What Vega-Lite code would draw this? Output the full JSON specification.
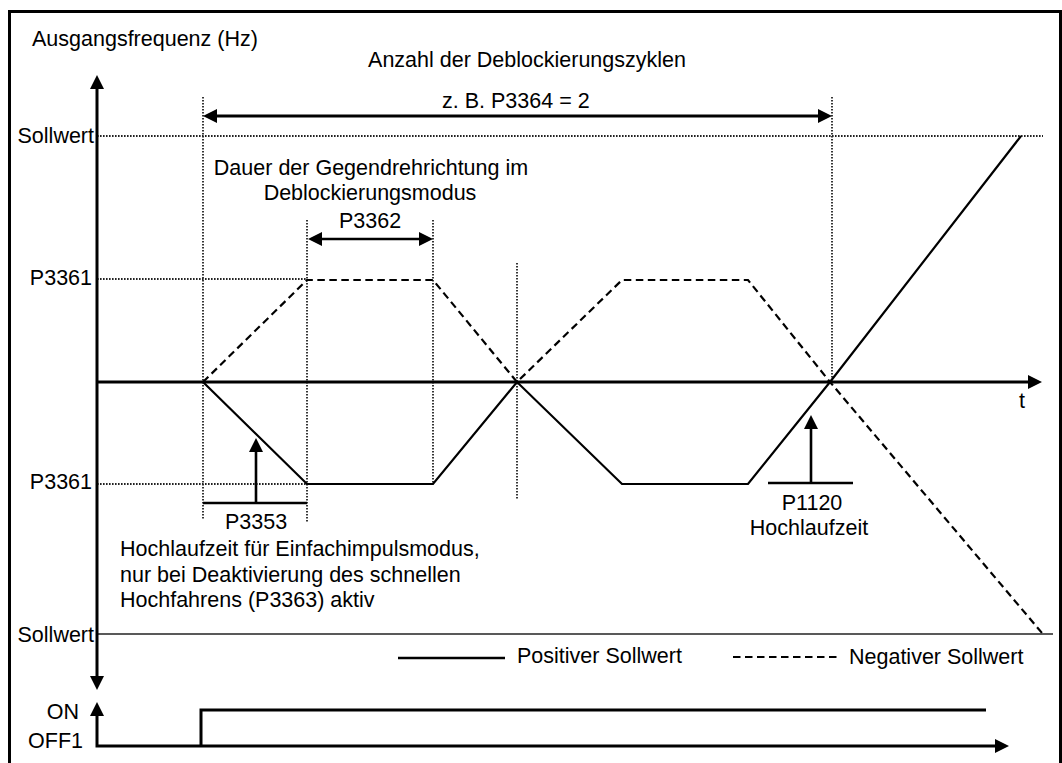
{
  "$schema": "https://vega.github.io/schema/vega-lite/v6.json",
  "width": 1062,
  "height": 763,
  "padding": 0,
  "autosize": {"type": "none"},
  "background": "white",
  "config": {"view": {"stroke": null}, "text": {"font": "Liberation Sans", "fontSize": 21.5, "color": "black", "baseline": "alphabetic"}},
  "datasets": {
    "frame": [{"x": 9.5, "x2": 1060.5, "y": 11.5, "y2": 900}],
    "paths": [
      {"g": "vax", "s": "thick", "o": 0, "x": 97, "y": 82},
      {"g": "vax", "s": "thick", "o": 1, "x": 97, "y": 683},
      {"g": "hax", "s": "thick", "o": 0, "x": 97, "y": 382},
      {"g": "hax", "s": "thick", "o": 1, "x": 1035, "y": 382},
      {"g": "bax", "s": "thick", "o": 0, "x": 97, "y": 709},
      {"g": "bax", "s": "thick", "o": 1, "x": 97, "y": 746},
      {"g": "bax", "s": "thick", "o": 2, "x": 1002, "y": 746},
      {"g": "on", "s": "thick", "o": 0, "x": 201, "y": 746},
      {"g": "on", "s": "thick", "o": 1, "x": 201, "y": 710},
      {"g": "on", "s": "thick", "o": 2, "x": 986, "y": 710},
      {"g": "top", "s": "thick", "o": 0, "x": 210, "y": 116},
      {"g": "top", "s": "thick", "o": 1, "x": 825, "y": 116},
      {"g": "p3362", "s": "mid", "o": 0, "x": 315, "y": 239},
      {"g": "p3362", "s": "mid", "o": 1, "x": 426, "y": 239},
      {"g": "br1", "s": "mid", "o": 0, "x": 203, "y": 503},
      {"g": "br1", "s": "mid", "o": 1, "x": 307, "y": 503},
      {"g": "sh1", "s": "mid", "o": 0, "x": 256, "y": 503},
      {"g": "sh1", "s": "mid", "o": 1, "x": 256, "y": 445},
      {"g": "br2", "s": "mid", "o": 0, "x": 768, "y": 483},
      {"g": "br2", "s": "mid", "o": 1, "x": 853, "y": 483},
      {"g": "sh2", "s": "mid", "o": 0, "x": 811, "y": 483},
      {"g": "sh2", "s": "mid", "o": 1, "x": 811, "y": 422},
      {"g": "legpos", "s": "mid", "o": 0, "x": 398, "y": 658},
      {"g": "legpos", "s": "mid", "o": 1, "x": 505, "y": 658},
      {"g": "pos", "s": "curve", "o": 0, "x": 203, "y": 382},
      {"g": "pos", "s": "curve", "o": 1, "x": 307, "y": 484},
      {"g": "pos", "s": "curve", "o": 2, "x": 433, "y": 484},
      {"g": "pos", "s": "curve", "o": 3, "x": 517, "y": 382},
      {"g": "pos", "s": "curve", "o": 4, "x": 622, "y": 484},
      {"g": "pos", "s": "curve", "o": 5, "x": 748, "y": 484},
      {"g": "pos", "s": "curve", "o": 6, "x": 830, "y": 382},
      {"g": "pos", "s": "curve", "o": 7, "x": 1021, "y": 136},
      {"g": "neg", "s": "dash", "o": 0, "x": 203, "y": 382},
      {"g": "neg", "s": "dash", "o": 1, "x": 307, "y": 280},
      {"g": "neg", "s": "dash", "o": 2, "x": 433, "y": 280},
      {"g": "neg", "s": "dash", "o": 3, "x": 517, "y": 382},
      {"g": "neg", "s": "dash", "o": 4, "x": 622, "y": 280},
      {"g": "neg", "s": "dash", "o": 5, "x": 748, "y": 280},
      {"g": "neg", "s": "dash", "o": 6, "x": 830, "y": 382},
      {"g": "neg", "s": "dash", "o": 7, "x": 1042, "y": 633},
      {"g": "legneg", "s": "dash", "o": 0, "x": 733, "y": 657},
      {"g": "legneg", "s": "dash", "o": 1, "x": 837, "y": 657},
      {"g": "d1", "s": "dot", "o": 0, "x": 97, "y": 136},
      {"g": "d1", "s": "dot", "o": 1, "x": 1043, "y": 136},
      {"g": "d2", "s": "dot", "o": 0, "x": 97, "y": 279},
      {"g": "d2", "s": "dot", "o": 1, "x": 307, "y": 279},
      {"g": "d3", "s": "dot", "o": 0, "x": 97, "y": 484},
      {"g": "d3", "s": "dot", "o": 1, "x": 307, "y": 484},
      {"g": "d4", "s": "dot", "o": 0, "x": 203, "y": 97},
      {"g": "d4", "s": "dot", "o": 1, "x": 203, "y": 520},
      {"g": "d5", "s": "dot", "o": 0, "x": 307, "y": 220},
      {"g": "d5", "s": "dot", "o": 1, "x": 307, "y": 522},
      {"g": "d6", "s": "dot", "o": 0, "x": 433, "y": 220},
      {"g": "d6", "s": "dot", "o": 1, "x": 433, "y": 484},
      {"g": "d7", "s": "dot", "o": 0, "x": 517, "y": 263},
      {"g": "d7", "s": "dot", "o": 1, "x": 517, "y": 500},
      {"g": "d8", "s": "dot", "o": 0, "x": 832, "y": 97},
      {"g": "d8", "s": "dot", "o": 1, "x": 832, "y": 382},
      {"g": "sw", "s": "thin", "o": 0, "x": 97, "y": 634},
      {"g": "sw", "s": "thin", "o": 1, "x": 1053, "y": 634}
    ],
    "heads": [
      {"x": 97, "y": 82, "d": "up"},
      {"x": 97, "y": 683, "d": "down"},
      {"x": 1035, "y": 382, "d": "right"},
      {"x": 97, "y": 709, "d": "up"},
      {"x": 1002, "y": 746, "d": "right"},
      {"x": 210, "y": 116, "d": "left"},
      {"x": 825, "y": 116, "d": "right"},
      {"x": 315, "y": 239, "d": "left"},
      {"x": 426, "y": 239, "d": "right"},
      {"x": 256, "y": 445, "d": "up"},
      {"x": 811, "y": 422, "d": "up"}
    ],
    "labels": [
      {"t": "Ausgangsfrequenz (Hz)", "x": 32, "y": 46, "a": "left"},
      {"t": "Anzahl der Deblockierungszyklen", "x": 527, "y": 67, "a": "center"},
      {"t": "z. B. P3364 = 2", "x": 442, "y": 108, "a": "left"},
      {"t": "Sollwert", "x": 94, "y": 143, "a": "right"},
      {"t": "P3361", "x": 92, "y": 285, "a": "right"},
      {"t": "P3361", "x": 92, "y": 489, "a": "right"},
      {"t": "Sollwert", "x": 94, "y": 642, "a": "right"},
      {"t": "ON", "x": 79, "y": 719, "a": "right"},
      {"t": "OFF1", "x": 83, "y": 748, "a": "right"},
      {"t": "t", "x": 1022, "y": 408, "a": "center"},
      {"t": "Dauer der Gegendrehrichtung im", "x": 371, "y": 175, "a": "center"},
      {"t": "Deblockierungsmodus", "x": 370, "y": 200, "a": "center"},
      {"t": "P3362", "x": 370, "y": 228, "a": "center"},
      {"t": "P3353", "x": 256, "y": 529, "a": "center"},
      {"t": "Hochlaufzeit für Einfachimpulsmodus,", "x": 120, "y": 556, "a": "left"},
      {"t": "nur bei Deaktivierung des schnellen", "x": 120, "y": 582, "a": "left"},
      {"t": "Hochfahrens (P3363) aktiv", "x": 120, "y": 607, "a": "left"},
      {"t": "P1120", "x": 812, "y": 510, "a": "center"},
      {"t": "Hochlaufzeit", "x": 809, "y": 535, "a": "center"},
      {"t": "Positiver Sollwert", "x": 517, "y": 663, "a": "left"},
      {"t": "Negativer Sollwert", "x": 849, "y": 664, "a": "left"}
    ]
  },
  "layer": [
    {
      "data": {"name": "frame"},
      "mark": {"type": "rect", "fillOpacity": 0, "stroke": "black", "strokeWidth": 3, "clip": true},
      "encoding": {
        "x": {"field": "x", "type": "quantitative", "scale": {"domain": [0, 1062], "nice": false, "zero": false}, "axis": null},
        "x2": {"field": "x2"},
        "y": {"field": "y", "type": "quantitative", "scale": {"domain": [0, 763], "nice": false, "zero": false, "reverse": true}, "axis": null},
        "y2": {"field": "y2"}
      }
    },
    {
      "data": {"name": "paths"},
      "transform": [{"filter": "datum.s == 'dot'"}],
      "mark": {"type": "line", "color": "#222222", "strokeWidth": 1.8, "strokeDash": [1.6, 1.4], "strokeCap": "butt"},
      "encoding": {
        "x": {"field": "x", "type": "quantitative", "scale": {"domain": [0, 1062], "nice": false, "zero": false}, "axis": null},
        "y": {"field": "y", "type": "quantitative", "scale": {"domain": [0, 763], "nice": false, "zero": false, "reverse": true}, "axis": null},
        "detail": {"field": "g"},
        "order": {"field": "o"}
      }
    },
    {
      "data": {"name": "paths"},
      "transform": [{"filter": "datum.s == 'thin'"}],
      "mark": {"type": "line", "color": "#222222", "strokeWidth": 1.5},
      "encoding": {
        "x": {"field": "x", "type": "quantitative", "scale": {"domain": [0, 1062], "nice": false, "zero": false}, "axis": null},
        "y": {"field": "y", "type": "quantitative", "scale": {"domain": [0, 763], "nice": false, "zero": false, "reverse": true}, "axis": null},
        "detail": {"field": "g"},
        "order": {"field": "o"}
      }
    },
    {
      "data": {"name": "paths"},
      "transform": [{"filter": "datum.s == 'dash'"}],
      "mark": {"type": "line", "color": "black", "strokeWidth": 2.2, "strokeDash": [7.5, 4.5]},
      "encoding": {
        "x": {"field": "x", "type": "quantitative", "scale": {"domain": [0, 1062], "nice": false, "zero": false}, "axis": null},
        "y": {"field": "y", "type": "quantitative", "scale": {"domain": [0, 763], "nice": false, "zero": false, "reverse": true}, "axis": null},
        "detail": {"field": "g"},
        "order": {"field": "o"}
      }
    },
    {
      "data": {"name": "paths"},
      "transform": [{"filter": "datum.s == 'curve'"}],
      "mark": {"type": "line", "color": "black", "strokeWidth": 2.2},
      "encoding": {
        "x": {"field": "x", "type": "quantitative", "scale": {"domain": [0, 1062], "nice": false, "zero": false}, "axis": null},
        "y": {"field": "y", "type": "quantitative", "scale": {"domain": [0, 763], "nice": false, "zero": false, "reverse": true}, "axis": null},
        "detail": {"field": "g"},
        "order": {"field": "o"}
      }
    },
    {
      "data": {"name": "paths"},
      "transform": [{"filter": "datum.s == 'mid'"}],
      "mark": {"type": "line", "color": "black", "strokeWidth": 2.6},
      "encoding": {
        "x": {"field": "x", "type": "quantitative", "scale": {"domain": [0, 1062], "nice": false, "zero": false}, "axis": null},
        "y": {"field": "y", "type": "quantitative", "scale": {"domain": [0, 763], "nice": false, "zero": false, "reverse": true}, "axis": null},
        "detail": {"field": "g"},
        "order": {"field": "o"}
      }
    },
    {
      "data": {"name": "paths"},
      "transform": [{"filter": "datum.s == 'thick'"}],
      "mark": {"type": "line", "color": "black", "strokeWidth": 3, "strokeJoin": "miter"},
      "encoding": {
        "x": {"field": "x", "type": "quantitative", "scale": {"domain": [0, 1062], "nice": false, "zero": false}, "axis": null},
        "y": {"field": "y", "type": "quantitative", "scale": {"domain": [0, 763], "nice": false, "zero": false, "reverse": true}, "axis": null},
        "detail": {"field": "g"},
        "order": {"field": "o"}
      }
    },
    {
      "data": {"name": "heads"},
      "mark": {"type": "point", "filled": true, "color": "black", "size": 196, "opacity": 1, "strokeWidth": 0},
      "encoding": {
        "x": {"field": "x", "type": "quantitative", "scale": {"domain": [0, 1062], "nice": false, "zero": false}, "axis": null},
        "y": {"field": "y", "type": "quantitative", "scale": {"domain": [0, 763], "nice": false, "zero": false, "reverse": true}, "axis": null},
        "shape": {"field": "d", "type": "nominal", "legend": null, "scale": {"domain": ["up", "down", "left", "right"], "range": ["M0,-1L-1,1L1,1Z", "M0,1L-1,-1L1,-1Z", "M-1,0L1,-1L1,1Z", "M1,0L-1,-1L-1,1Z"]}}
      }
    },
    {
      "data": {"name": "labels"},
      "transform": [{"filter": "datum.a == 'left'"}],
      "mark": {"type": "text", "align": "left"},
      "encoding": {
        "x": {"field": "x", "type": "quantitative", "scale": {"domain": [0, 1062], "nice": false, "zero": false}, "axis": null},
        "y": {"field": "y", "type": "quantitative", "scale": {"domain": [0, 763], "nice": false, "zero": false, "reverse": true}, "axis": null},
        "text": {"field": "t"}
      }
    },
    {
      "data": {"name": "labels"},
      "transform": [{"filter": "datum.a == 'center'"}],
      "mark": {"type": "text", "align": "center"},
      "encoding": {
        "x": {"field": "x", "type": "quantitative", "scale": {"domain": [0, 1062], "nice": false, "zero": false}, "axis": null},
        "y": {"field": "y", "type": "quantitative", "scale": {"domain": [0, 763], "nice": false, "zero": false, "reverse": true}, "axis": null},
        "text": {"field": "t"}
      }
    },
    {
      "data": {"name": "labels"},
      "transform": [{"filter": "datum.a == 'right'"}],
      "mark": {"type": "text", "align": "right"},
      "encoding": {
        "x": {"field": "x", "type": "quantitative", "scale": {"domain": [0, 1062], "nice": false, "zero": false}, "axis": null},
        "y": {"field": "y", "type": "quantitative", "scale": {"domain": [0, 763], "nice": false, "zero": false, "reverse": true}, "axis": null},
        "text": {"field": "t"}
      }
    }
  ]
}
